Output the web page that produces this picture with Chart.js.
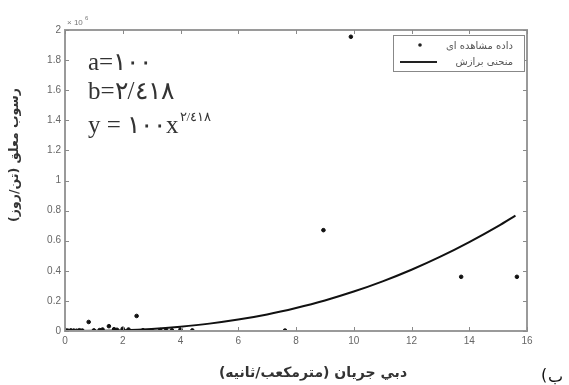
<!DOCTYPE html>
<html>
<head>
<meta charset="utf-8">
<script src="https://cdn.jsdelivr.net/npm/chart.js@4.4.1/dist/chart.umd.min.js"></script>
<style>
html,body{margin:0;padding:0;background:#fff;}
#wrap{width:569px;height:385px;position:relative;}
</style>
</head>
<body>
<div id="wrap"><canvas id="c" width="569" height="385"></canvas></div>
<script>
// Observed data (discharge m3/s, suspended sediment as plotted)
const obsX = [0.05,0.1,0.2,0.3,0.4,0.5,0.6,0.82,1.0,1.2,1.3,1.52,1.7,1.8,2.0,2.2,2.48,2.7,3.0,3.3,3.5,3.7,4.0,4.41,7.62,8.95,9.9,13.72,15.65];
const obsY = [0.003,0.002,0.004,0.003,0.002,0.005,0.003,0.06,0.004,0.006,0.01,0.032,0.012,0.008,0.015,0.01,0.1,0.005,0.004,0.006,0.008,0.005,0.01,0.004,0.003,0.67,1.955,0.36,0.36];
// Fitted curve
const fitX = [0,1,2,3,4,5,6,7,8,9,10,11,12,13,14,15,15.6];
const fitY = [0,0.001,0.005,0.014,0.029,0.049,0.076,0.11,0.153,0.203,0.262,0.33,0.407,0.494,0.591,0.697,0.767];
const xTicks = [0,2,4,6,8,10,12,14,16];
const yTicks = [0,0.2,0.4,0.6,0.8,1,1.2,1.4,1.6,1.8,2];
const seriesNames = ['داده مشاهده ای','منحنی برازش'];
const xTitle = 'دبي جريان (مترمكعب/ثانيه)';
const yTitle = 'رسوب معلق (تن/روز)';

const frameColor = '#9a9a9a';

const decor = {
  id:'decor',
  afterDatasetsDraw(chart){
    const ctx = chart.ctx, a = chart.chartArea;
    const xs = chart.scales.x, ys = chart.scales.y;
    ctx.save();
    // frame
    ctx.strokeStyle = frameColor; ctx.lineWidth = 2;
    ctx.strokeRect(a.left, a.top, a.right-a.left, a.bottom-a.top);
    // inside ticks
    ctx.lineWidth = 1; ctx.strokeStyle = '#8a8a8a';
    xTicks.forEach(v=>{
      const px = Math.round(xs.getPixelForValue(v))+0.5;
      ctx.beginPath(); ctx.moveTo(px,a.bottom); ctx.lineTo(px,a.bottom-4);
      ctx.moveTo(px,a.top); ctx.lineTo(px,a.top+4); ctx.stroke();
    });
    yTicks.forEach(v=>{
      const py = Math.round(ys.getPixelForValue(v))+0.5;
      ctx.beginPath(); ctx.moveTo(a.left,py); ctx.lineTo(a.left+4,py);
      ctx.moveTo(a.right,py); ctx.lineTo(a.right-4,py); ctx.stroke();
    });
    // exponent label
    ctx.fillStyle = '#777';
    ctx.font = '8px "Liberation Sans", Arial';
    ctx.textBaseline = 'alphabetic'; ctx.textAlign = 'left';
    ctx.fillText('× 10', a.left+2, a.top-5);
    ctx.font = '6px "Liberation Sans", Arial';
    ctx.fillText('6', a.left+20, a.top-10);
    // annotation text
    ctx.fillStyle = '#333';
    ctx.font = '25px "Liberation Serif", "Times New Roman", serif';
    ctx.direction = 'ltr';
    ctx.fillText('a=۱۰۰', 88, 70);
    ctx.fillText('b=۲/٤۱۸', 88, 99);
    const base = 'y = ۱۰۰x';
    ctx.fillText(base, 88, 133);
    const w = ctx.measureText(base).width;
    ctx.font = '13px "Liberation Serif", "Times New Roman", serif';
    ctx.fillText('۲/٤۱۸', 88 + w + 1, 121);
    // legend box
    ctx.fillStyle = '#fff';
    ctx.fillRect(393,35,132,37);
    ctx.strokeStyle = '#888'; ctx.lineWidth = 1;
    ctx.strokeRect(393.5,35.5,131,36);
    ctx.fillStyle = '#222';
    ctx.beginPath(); ctx.arc(420,45,1.8,0,Math.PI*2); ctx.fill();
    ctx.strokeStyle = '#222'; ctx.lineWidth = 2;
    ctx.beginPath(); ctx.moveTo(400,62); ctx.lineTo(437,62); ctx.stroke();
    ctx.fillStyle = '#555';
    ctx.font = '10px "DejaVu Sans", sans-serif';
    ctx.textAlign = 'right'; ctx.textBaseline = 'middle';
    ctx.fillText(seriesNames[0], 513, 46);
    ctx.fillText(seriesNames[1], 513, 62);
    // axis titles
    ctx.fillStyle = '#333';
    ctx.font = 'bold 14px "DejaVu Sans", sans-serif';
    ctx.textAlign = 'center';
    ctx.fillText(xTitle, 313, 373);
    ctx.save();
    ctx.translate(15, 155);
    ctx.rotate(-Math.PI/2);
    ctx.font = 'bold 12.5px "DejaVu Sans", sans-serif';
    ctx.fillText(yTitle, 0, 0);
    ctx.restore();
    // panel label
    ctx.fillStyle = '#111';
    ctx.font = '16px "DejaVu Sans", sans-serif';
    ctx.textAlign = 'left';
    ctx.fillText('(', 541, 376);
    ctx.fillText('ب', 548, 378);
    ctx.restore();
  }
};

new Chart(document.getElementById('c'), {
  type:'scatter',
  data:{
    datasets:[
      {label:seriesNames[0], data: obsX.map((x,i)=>({x:x,y:obsY[i]})),
       backgroundColor:'#111', borderColor:'#111', pointRadius:1.8, pointHoverRadius:1.8, showLine:false, order:1},
      {label:seriesNames[1], data: fitX.map((x,i)=>({x:x,y:fitY[i]})),
       showLine:true, borderColor:'#111', borderWidth:2, pointRadius:0, cubicInterpolationMode:'monotone', fill:false, order:2}
    ]
  },
  options:{
    responsive:false, animation:false, events:[],
    layout:{padding:{left:0,right:42,top:30,bottom:0}},
    plugins:{legend:{display:false}, tooltip:{enabled:false}},
    scales:{
      x:{type:'linear', min:0, max:16,
         afterBuildTicks(s){ s.ticks = xTicks.map(v=>({value:v})); },
         afterFit(s){ s.height = 54; },
         grid:{display:false, drawTicks:false},
         border:{display:false},
         ticks:{color:'#666', font:{size:10, family:'"Liberation Sans", Arial'}, padding:4, maxRotation:0,
                callback:v=>String(v)}},
      y:{type:'linear', min:0, max:2,
         afterBuildTicks(s){ s.ticks = yTicks.map(v=>({value:v})); },
         afterFit(s){ s.width = 65; },
         grid:{display:false, drawTicks:false},
         border:{display:false},
         ticks:{color:'#666', font:{size:10, family:'"Liberation Sans", Arial'}, padding:4,
                callback:v=>String(Math.round(v*10)/10)}}
    }
  },
  plugins:[decor]
});
</script>
</body>
</html>
